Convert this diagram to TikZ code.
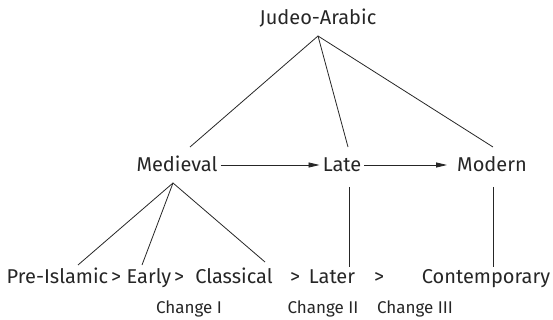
\documentclass[tikz,border=0pt]{standalone}
\usepackage{fontspec}
\setmainfont{Fira Sans}
\usetikzlibrary{arrows.meta}
\begin{document}
\begin{tikzpicture}[x=1pt,y=-1pt,
  lbl/.style={inner sep=0pt,anchor=base,font=\fontsize{20}{24}\selectfont,text=black!85},
  small/.style={inner sep=0pt,anchor=base,font=\fontsize{17}{20}\selectfont,text=black!85},
  ln/.style={line width=0.8pt,black!85},
  arr/.style={ln,-{Triangle[length=11pt,width=5pt]}}]
\useasboundingbox (0,0) rectangle (553,320);
% top
\node[lbl] (ja) at (318,25) {Judeo-Arabic};
\coordinate (jatip) at (318,36);
% middle
\node[lbl] (med) at (177,172) {Medieval};
\node[lbl] (late) at (342,172) {Late};
\node[lbl] (mod) at (492,172) {Modern};
\coordinate (medtop) at (190,147);
\coordinate (latetop) at (348,147);
\coordinate (modtop) at (493,147);
\coordinate (medbot) at (173,183);
\coordinate (latebot) at (349,187);
\coordinate (modbot) at (493,187);
% bottom
\node[lbl] (pre) at (57.5,283) {Pre-Islamic};
\node[lbl] (g1) at (116,283) {>};
\node[lbl] (early) at (149,283) {Early};
\node[lbl] (g2) at (179,283) {>};
\node[lbl] (clas) at (234,283) {Classical};
\node[lbl] (g3) at (295,283) {>};
\node[lbl] (later) at (332,283) {Later};
\node[lbl] (g4) at (379,283) {>};
\node[lbl] (cont) at (486,283) {Contemporary};
\coordinate (pretop) at (78,265);
\coordinate (earlytop) at (142,265);
\coordinate (clastop) at (265,262);
\coordinate (latertop) at (349,267);
\coordinate (conttop) at (493,267);
% change labels
\node[small] (c1) at (189,313) {Change I};
\node[small] (c2) at (323,313) {Change II};
\node[small] (c3) at (415,313) {Change III};
% lines
\draw[ln] (medtop) -- (jatip) -- (modtop);
\draw[ln] (jatip) -- (latetop);
\draw[ln] (pretop) -- (medbot) -- (clastop);
\draw[ln] (medbot) -- (earlytop);
\draw[ln] (latebot) -- (latertop);
\draw[ln] (modbot) -- (conttop);
\draw[arr] ([xshift=3pt,yshift=7pt]med.base east) -- ([xshift=-3pt,yshift=7pt]late.base west);
\draw[arr] ([xshift=3pt,yshift=7pt]late.base east) -- ([xshift=-10pt,yshift=7pt]mod.base west);
\end{tikzpicture}
\end{document}
